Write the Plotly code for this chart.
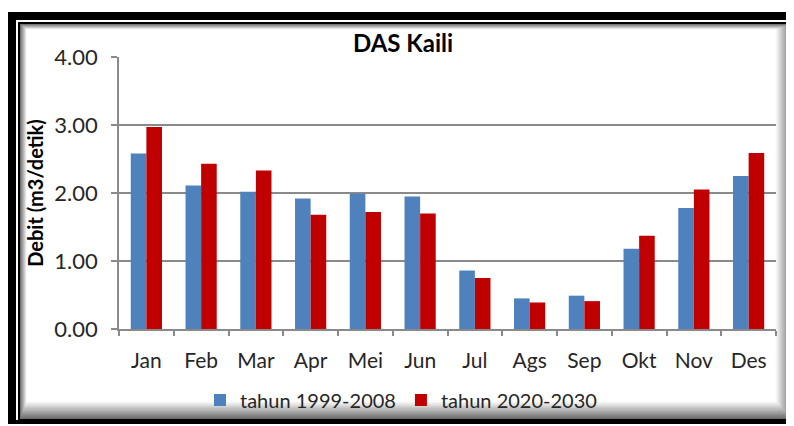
import plotly.graph_objects as go

months = ["Jan", "Feb", "Mar", "Apr", "Mei", "Jun", "Jul", "Ags", "Sep", "Okt", "Nov", "Des"]
series_1999_2008 = [2.58, 2.11, 2.02, 1.92, 1.99, 1.95, 0.86, 0.45, 0.49, 1.18, 1.78, 2.25]
series_2020_2030 = [2.97, 2.43, 2.33, 1.68, 1.72, 1.70, 0.75, 0.39, 0.41, 1.37, 2.05, 2.59]
y_ticks = [0, 1, 2, 3, 4]
y_tick_labels = ["0.00", "1.00", "2.00", "3.00", "4.00"]

W, H = 794, 426
OFF = 8  # page body margin offset
# plot area in reference pixels
RL, RR, RT, RB = 119, 776, 57, 329
L, R, T, B = RL - OFF, RR - OFF, RT - OFF, RB - OFF

def px(x):
    return (x - OFF - L) / (R - L)

def py(y):
    return (B - (y - OFF)) / (B - T)

FONT = "Lato"
TXT = "#262626"

fig = go.Figure()
fig.add_trace(go.Bar(name="tahun 1999-2008", x=months, y=series_1999_2008,
                     marker_color="#4F81BD", marker_line_width=0))
fig.add_trace(go.Bar(name="tahun 2020-2030", x=months, y=series_2020_2030,
                     marker_color="#C00000", marker_line_width=0))

def rect(x0, y0, x1, y1, color):
    return dict(type="rect", xref="paper", yref="paper", layer="below",
                x0=px(x0), x1=px(x1), y0=py(y0), y1=py(y1),
                fillcolor=color, line_width=0)

shapes = [
    rect(8, 12, 810, 424, "black"),
    rect(16, 20, 810, 420, "white"),
    rect(18, 22, 810, 421, "black"),
    rect(20, 24, 792, 419, "#555555"),
]
for i in range(14):
    g = min(int(110 + i * 11), 255)
    shapes.append(rect(20 + i * 0.5, 24 + i * 0.4, 792 - i * 1.2, 419 - i * 1.3,
                       f"rgb({g},{g},{g})"))
shapes.append(rect(28, 30, 774, 400, "white"))

fig.update_layout(
    width=W, height=H,
    margin=dict(l=L, r=W - R, t=T, b=H - B),
    paper_bgcolor="white",
    plot_bgcolor="rgba(0,0,0,0)",
    barmode="group",
    bargap=0.43,
    bargroupgap=0,
    shapes=shapes,
    title=dict(text="<b>DAS Kaili</b>", x=px(403), xref="paper", xanchor="center",
               y=1 - (44 - OFF) / H, yanchor="middle",
               font=dict(family=FONT, size=24, color="black")),
    font=dict(family=FONT, color=TXT),
    legend=dict(orientation="h", x=px(200), xanchor="left", y=py(400), yanchor="middle",
                font=dict(family=FONT, size=20, color=TXT),
                bgcolor="rgba(0,0,0,0)", itemwidth=30, traceorder="normal"),
    showlegend=True,
)
fig.update_xaxes(
    type="category", showgrid=False, showline=True, linecolor="#8a8a8a", linewidth=1.6,
    ticks="outside", tickson="boundaries", ticklen=5, tickcolor="#8a8a8a", tickwidth=1.6,
    tickfont=dict(family=FONT, size=21, color=TXT), ticklabelstandoff=12,
)
fig.update_yaxes(
    range=[0, 4], tickvals=y_ticks, ticktext=y_tick_labels,
    showgrid=True, gridcolor="#8a8a8a", gridwidth=1.6,
    showline=True, linecolor="#8a8a8a", linewidth=1.6,
    ticks="outside", ticklen=6, tickcolor="#8a8a8a", tickwidth=1.6,
    tickfont=dict(family=FONT, size=22, color=TXT), ticklabelstandoff=9,
    title=dict(text="<b>Debit (m3/detik)</b>", font=dict(family=FONT, size=20, color="black"),
               standoff=5),
    zeroline=False,
)

fig.write_html("out.html")
